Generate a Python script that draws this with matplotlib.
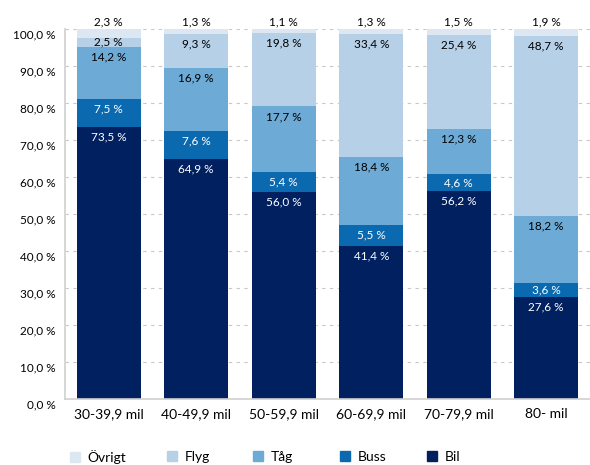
import numpy as np
import matplotlib.pyplot as plt
from matplotlib.patches import Patch
from matplotlib.transforms import ScaledTranslation

plt.rcParams['font.family'] = ['Lato', 'DejaVu Sans']

categories = ['30-39,9 mil', '40-49,9 mil', '50-59,9 mil', '60-69,9 mil', '70-79,9 mil', '80- mil']
bil = [73.5, 64.9, 56.0, 41.4, 56.2, 27.6]
buss = [7.5, 7.6, 5.4, 5.5, 4.6, 3.6]
tag = [14.2, 16.9, 17.7, 18.4, 12.3, 18.2]
flyg = [2.5, 9.3, 19.8, 33.4, 25.4, 48.7]
ovrigt = [2.3, 1.3, 1.1, 1.3, 1.5, 1.9]

series = [('Bil', bil, '#002060', 'white'),
          ('Buss', buss, '#0b69b0', 'white'),
          ('Tåg', tag, '#6eaad6', 'black'),
          ('Flyg', flyg, '#b5d0e7', 'black'),
          ('Övrigt', ovrigt, '#dce7f2', 'black')]

fig = plt.figure(figsize=(5.9, 4.65), dpi=100)
ax = fig.add_axes([65 / 590, 0.143, 525 / 590, 0.794])

x = np.arange(len(categories))
bottom = np.zeros(len(categories))
for name, vals, col, tcol in series:
    vals = np.array(vals)
    ax.bar(x, vals, 0.73, bottom=bottom, color=col, zorder=2)
    top = bottom + vals
    for xi, b, t, v in zip(x, bottom, top, vals):
        lab = ('%.1f %%' % v).replace('.', ',')
        if name == 'Övrigt':
            ax.annotate(lab, (xi, t), xytext=(0, 5.5), textcoords='offset points',
                        ha='center', va='center', fontsize=8.5, color=tcol)
        else:
            # inside end, but centred when the segment is too thin
            ly = max(t - 2.7, (b + t) / 2)
            ax.text(xi, ly, lab, ha='center', va='center', fontsize=8.5, color=tcol)
    bottom = top

ax.set_xlim(-0.5, 5.5)
ax.set_ylim(0, 100)
ax.set_yticks(np.arange(0, 101, 10))
ax.set_yticklabels([('%.1f %%' % v).replace('.', ',') for v in np.arange(0, 101, 10)], fontsize=8.5)
ax.set_xticks(x)
ax.set_xticklabels(categories, fontsize=10)
ax.tick_params(length=0)
ax.tick_params(axis='x', pad=7)
ax.tick_params(axis='y', pad=6.5)
shift = ScaledTranslation(0, -5 / 100, fig.dpi_scale_trans)
for t in ax.get_yticklabels():
    t.set_transform(t.get_transform() + shift)
ax.yaxis.grid(True, color='#c8c8c8', linestyle=(0, (3, 4)), linewidth=0.8, zorder=0)
for s in ['top', 'right']:
    ax.spines[s].set_visible(False)
for s in ['left', 'bottom']:
    ax.spines[s].set_color('#d0d0d0')
    ax.spines[s].set_linewidth(1.2)

# legend entries placed one by one, roughly under each bar
leg_x = [70, 167, 253, 340, 427]
for lx, (name, vals, col, tcol) in zip(leg_x, series[::-1]):
    fig.legend(handles=[Patch(color=col, label=name)], loc='center left',
               bbox_to_anchor=(lx / 590, 1 - 457 / 465), frameon=False, fontsize=10,
               borderpad=0, borderaxespad=0, handlelength=0.75, handleheight=0.75,
               handletextpad=0.5)

fig.savefig('out.png', dpi=100)
